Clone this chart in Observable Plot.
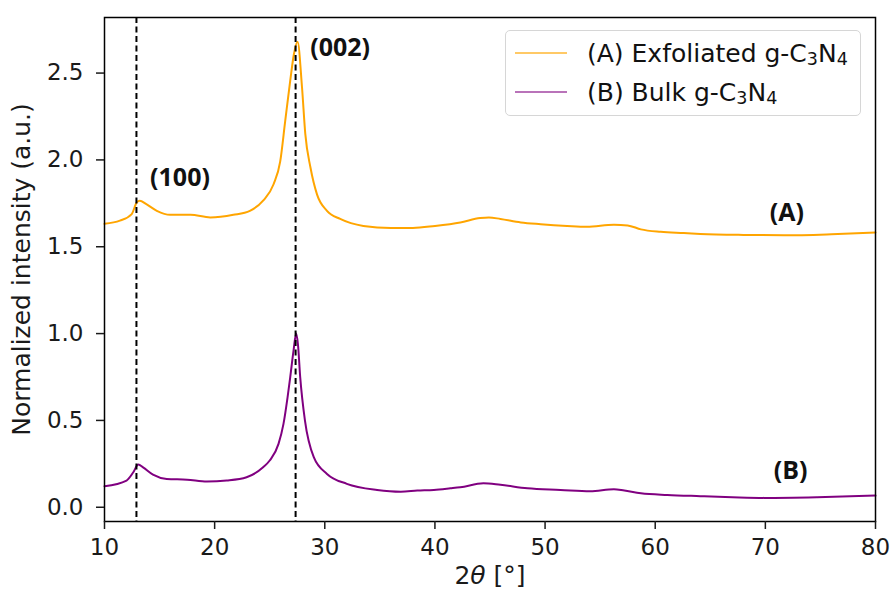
<!DOCTYPE html>
<html><head><meta charset="utf-8">
<script src="https://cdn.jsdelivr.net/npm/d3@7"></script>
<script src="https://cdn.jsdelivr.net/npm/@observablehq/plot@0.6"></script>
<style>
body{margin:0;background:#fff;}
#wrap{position:relative;width:891px;height:595px;}
#wrap svg g[aria-label="x-axis label"], #wrap svg g[aria-label="y-axis label"]{font-size:25px;}
.legend{position:absolute;left:505px;top:30px;width:356px;height:86px;border:1.5px solid #d6d6d6;border-radius:5px;background:rgba(255,255,255,0.8);font-family:"DejaVu Sans";font-size:25px;color:#111;box-sizing:border-box;}
.row{position:absolute;left:0;height:32px;display:flex;align-items:center;white-space:nowrap;}
.swatch{width:52px;height:0;border-top:2px solid;margin-left:9px;margin-right:20px;}
sub{font-size:0.7em;vertical-align:-0.18em;line-height:0;}
</style></head><body><div id="wrap"></div>
<script>
// Series A: exfoliated g-C3N4
const xA = [10, 11.4, 12.47, 12.93, 13.2, 13.8, 14.75, 15.95, 17.8, 19.6, 21.7, 23.2, 24.4, 25.35, 25.95, 26.4, 26.86, 27.2, 27.53, 27.93, 28.23, 28.7, 29.3, 30.2, 31.4, 33.5, 36.0, 38.0, 40.0, 42.3, 44.1, 44.9, 45.95, 47.8, 49.6, 52.0, 53.8, 56.25, 57.5, 58.7, 60.5, 62.6, 64.1, 68, 71.7, 76, 80];
const yA = [1.632, 1.65, 1.688, 1.755, 1.765, 1.745, 1.707, 1.684, 1.684, 1.669, 1.684, 1.707, 1.765, 1.86, 1.99, 2.22, 2.455, 2.61, 2.68, 2.42, 2.15, 1.956, 1.80, 1.707, 1.66, 1.62, 1.608, 1.608, 1.62, 1.64, 1.665, 1.669, 1.66, 1.64, 1.63, 1.62, 1.615, 1.627, 1.623, 1.60, 1.586, 1.579, 1.574, 1.568, 1.566, 1.572, 1.582];
// Series B: bulk g-C3N4
const xB = [10, 12.0, 12.6, 13.07, 13.5, 14.4, 15.65, 17.5, 19.3, 21.1, 22.9, 24.4, 25.0, 25.8, 26.25, 26.62, 26.86, 27.16, 27.4, 27.56, 27.77, 28.2, 29.0, 30.2, 32.0, 34.75, 36.9, 38.4, 39.9, 41.4, 42.3, 44.4, 45.95, 48.4, 51.4, 54.1, 56.25, 57.2, 58.7, 61.1, 64.1, 67, 69.9, 74.7, 80];
const yB = [0.121, 0.154, 0.20, 0.246, 0.23, 0.188, 0.163, 0.159, 0.148, 0.154, 0.173, 0.23, 0.269, 0.365, 0.48, 0.633, 0.748, 0.90, 1.0, 0.94, 0.748, 0.499, 0.288, 0.192, 0.135, 0.10, 0.09, 0.096, 0.10, 0.109, 0.115, 0.138, 0.129, 0.109, 0.10, 0.092, 0.104, 0.096, 0.081, 0.071, 0.064, 0.058, 0.054, 0.058, 0.067];

const peakPositions = [12.9, 27.35];
const annLabels = ["(100)", "(002)", "(A)", "(B)"];
const annX = [14.14, 28.68, 71.95, 72.3];
const annY = [1.897, 2.645, 1.694, 0.21];
const annAnchor = ["start", "start", "middle", "middle"];

const xTicks = [10, 20, 30, 40, 50, 60, 70, 80];
const yTicks = [0, 0.5, 1.0, 1.5, 2.0, 2.5];
const seriesColors = ["#FFA500", "#800080"];
const legendColors = ["rgba(255,165,0,0.6)", "rgba(128,0,128,0.55)"];
const legendLabels = ["(A) Exfoliated g-C<sub>3</sub>N<sub>4</sub>", "(B) Bulk g-C<sub>3</sub>N<sub>4</sub>"];

const A = xA.map((x, i) => ({x, y: yA[i]}));
const B = xB.map((x, i) => ({x, y: yB[i]}));
const annStyle = {x: (d, i) => annX[i], y: (d, i) => annY[i], text: d => d, fontWeight: "bold", fontFamily: "Open Sans", fontSize: 25, fill: "#111"};

const plot = Plot.plot({
  width: 891, height: 595,
  marginLeft: 104, marginRight: 16, marginTop: 17, marginBottom: 74,
  x: {domain: [10, 80]},
  y: {domain: [-0.082, 2.82]},
  style: {fontFamily: "DejaVu Sans", fontSize: "23px", color: "#1a1a1a", background: "white"},
  marks: [
    Plot.line(A, {x: "x", y: "y", stroke: seriesColors[0], strokeWidth: 2, curve: "monotone-x"}),
    Plot.line(B, {x: "x", y: "y", stroke: seriesColors[1], strokeWidth: 2, curve: "monotone-x"}),
    Plot.ruleX(peakPositions, {stroke: "black", strokeWidth: 2, strokeDasharray: "6,3.5"}),
    Plot.text(annLabels, {...annStyle, filter: (d, i) => annAnchor[i] === "start", textAnchor: "start"}),
    Plot.text(annLabels, {...annStyle, filter: (d, i) => annAnchor[i] === "middle", textAnchor: "middle"}),
    Plot.frame({stroke: "black", strokeWidth: 1.5}),
    Plot.axisX({ticks: xTicks, tickSize: 8, tickPadding: 9, strokeWidth: 1.5, label: "2θ [°]", labelAnchor: "center", labelArrow: "none", labelOffset: 62}),
    Plot.axisY({ticks: yTicks, tickSize: 8, tickPadding: 13, strokeWidth: 1.5, tickFormat: d3.format(".1f"), label: "Normalized intensity (a.u.)", labelAnchor: "center", labelArrow: "none", labelOffset: 92})
  ]
});
const wrap = document.getElementById("wrap");
wrap.appendChild(plot);

// italic theta in x label
const xl = d3.select(plot).select('g[aria-label="x-axis label"] text');
if (!xl.empty()) {
  xl.text("");
  xl.append("tspan").text("2");
  xl.append("tspan").attr("font-style", "italic").text("θ");
  xl.append("tspan").text(" [°]");
}

// legend
const lg = document.createElement("div");
lg.className = "legend";
const rowTops = [6, 45];
legendLabels.forEach((lab, i) => {
  const r = document.createElement("div");
  r.className = "row";
  r.style.top = rowTops[i] + "px";
  r.innerHTML = `<span class="swatch" style="border-color:${legendColors[i]}"></span><span>${lab}</span>`;
  lg.appendChild(r);
});
wrap.appendChild(lg);
</script></body></html>
